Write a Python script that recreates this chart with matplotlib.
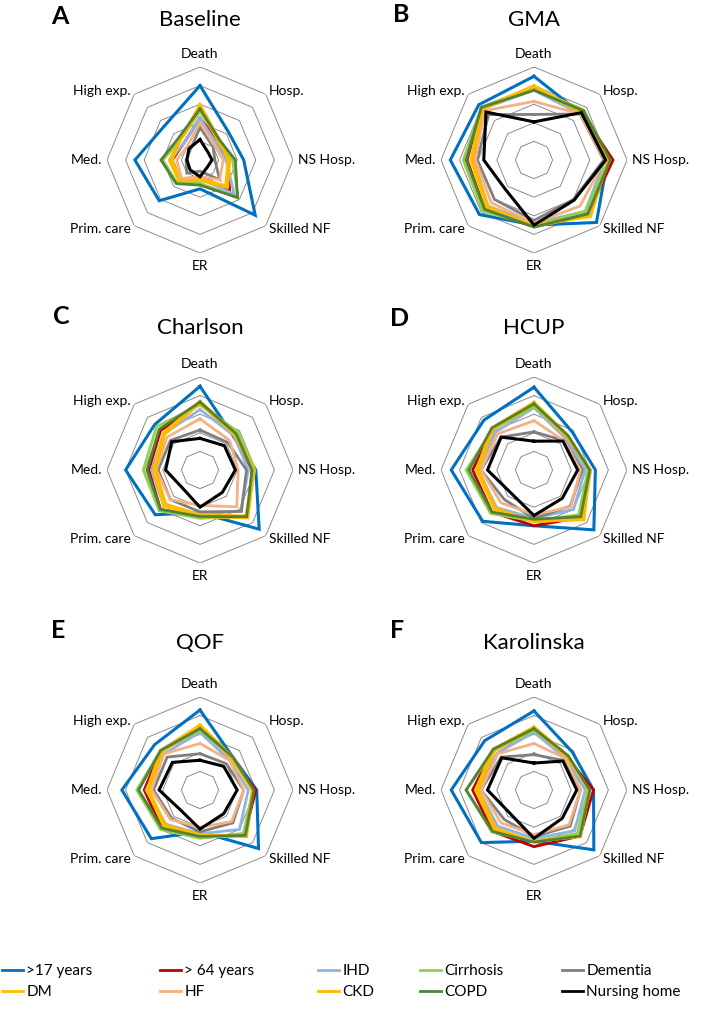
import numpy as np
import matplotlib
matplotlib.use("Agg")
import matplotlib.pyplot as plt

plt.rcParams['font.family'] = ['Lato', 'DejaVu Sans']

# axes of every radar, clockwise from the top
axis_names = ["Death", "Hosp.", "NS Hosp.", "Skilled NF", "ER", "Prim. care", "Med.", "High exp."]

groups = [">17 years", "> 64 years", "IHD", "Cirrhosis", "Dementia",
          "DM", "HF", "CKD", "COPD", "Nursing home"]
colors = ["#0070C0", "#C00000", "#8EB4E3", "#92D050", "#7F7F7F",
          "#FFC000", "#F4B183", "#FFB800", "#548235", "#000000"]

panel_titles = ["Baseline", "GMA", "Charlson", "HCUP", "QOF", "Karolinska"]
panel_letters = ["A", "B", "C", "D", "E", "F"]

# values on the radar scale (outer ring = 1), one row per group
baseline = [
    [0.80, 0.43, 0.47, 0.84, 0.31, 0.62, 0.70, 0.53],
    [0.45, 0.28, 0.30, 0.45, 0.18, 0.30, 0.30, 0.25],
    [0.45, 0.25, 0.28, 0.52, 0.20, 0.30, 0.32, 0.25],
    [0.52, 0.30, 0.35, 0.58, 0.25, 0.35, 0.40, 0.30],
    [0.35, 0.20, 0.16, 0.30, 0.12, 0.20, 0.15, 0.15],
    [0.60, 0.30, 0.30, 0.39, 0.20, 0.30, 0.30, 0.30],
    [0.40, 0.22, 0.25, 0.30, 0.18, 0.28, 0.25, 0.20],
    [0.55, 0.28, 0.32, 0.42, 0.22, 0.32, 0.33, 0.30],
    [0.55, 0.30, 0.38, 0.57, 0.27, 0.36, 0.42, 0.33],
    [0.22, 0.12, 0.13, 0.11, 0.18, 0.15, 0.14, 0.17],
]
gma = [
    [0.90, 0.71, 0.79, 0.95, 0.70, 0.83, 0.90, 0.84],
    [0.78, 0.72, 0.85, 0.82, 0.72, 0.75, 0.72, 0.80],
    [0.75, 0.70, 0.76, 0.78, 0.68, 0.70, 0.65, 0.78],
    [0.77, 0.76, 0.80, 0.78, 0.70, 0.78, 0.76, 0.80],
    [0.49, 0.70, 0.75, 0.60, 0.65, 0.60, 0.61, 0.69],
    [0.80, 0.73, 0.80, 0.86, 0.70, 0.72, 0.68, 0.79],
    [0.63, 0.70, 0.76, 0.70, 0.68, 0.65, 0.63, 0.75],
    [0.77, 0.72, 0.81, 0.84, 0.72, 0.70, 0.66, 0.78],
    [0.75, 0.75, 0.82, 0.82, 0.72, 0.75, 0.73, 0.80],
    [0.41, 0.72, 0.77, 0.61, 0.70, 0.44, 0.54, 0.73],
]
charlson = [
    [0.90, 0.51, 0.60, 0.90, 0.46, 0.68, 0.80, 0.69],
    [0.72, 0.53, 0.56, 0.72, 0.50, 0.60, 0.55, 0.60],
    [0.65, 0.52, 0.52, 0.62, 0.48, 0.55, 0.52, 0.55],
    [0.70, 0.58, 0.59, 0.70, 0.52, 0.62, 0.61, 0.66],
    [0.43, 0.42, 0.50, 0.63, 0.45, 0.45, 0.45, 0.45],
    [0.74, 0.55, 0.58, 0.73, 0.50, 0.55, 0.50, 0.56],
    [0.55, 0.45, 0.41, 0.56, 0.38, 0.45, 0.47, 0.50],
    [0.72, 0.53, 0.57, 0.70, 0.48, 0.52, 0.48, 0.54],
    [0.73, 0.55, 0.56, 0.71, 0.50, 0.60, 0.57, 0.62],
    [0.34, 0.37, 0.38, 0.34, 0.40, 0.27, 0.37, 0.43],
]
hcup = [
    [0.89, 0.58, 0.66, 0.91, 0.60, 0.78, 0.89, 0.76],
    [0.72, 0.50, 0.60, 0.72, 0.60, 0.64, 0.66, 0.63],
    [0.67, 0.48, 0.55, 0.60, 0.52, 0.57, 0.60, 0.58],
    [0.68, 0.52, 0.58, 0.68, 0.55, 0.66, 0.73, 0.62],
    [0.41, 0.45, 0.52, 0.55, 0.52, 0.45, 0.57, 0.50],
    [0.73, 0.52, 0.60, 0.76, 0.55, 0.60, 0.62, 0.64],
    [0.53, 0.45, 0.50, 0.56, 0.48, 0.50, 0.57, 0.55],
    [0.71, 0.50, 0.61, 0.74, 0.56, 0.58, 0.60, 0.62],
    [0.71, 0.52, 0.60, 0.71, 0.53, 0.64, 0.70, 0.64],
    [0.31, 0.44, 0.47, 0.43, 0.49, 0.35, 0.50, 0.50],
]
qof = [
    [0.86, 0.50, 0.61, 0.89, 0.45, 0.74, 0.84, 0.69],
    [0.68, 0.48, 0.60, 0.68, 0.51, 0.58, 0.60, 0.60],
    [0.62, 0.45, 0.52, 0.60, 0.47, 0.52, 0.58, 0.55],
    [0.64, 0.50, 0.57, 0.66, 0.52, 0.60, 0.68, 0.60],
    [0.39, 0.40, 0.47, 0.50, 0.45, 0.43, 0.50, 0.50],
    [0.70, 0.50, 0.57, 0.71, 0.50, 0.55, 0.57, 0.60],
    [0.50, 0.45, 0.47, 0.48, 0.40, 0.45, 0.52, 0.55],
    [0.68, 0.48, 0.56, 0.70, 0.48, 0.53, 0.55, 0.58],
    [0.66, 0.50, 0.58, 0.69, 0.50, 0.58, 0.66, 0.60],
    [0.32, 0.36, 0.40, 0.36, 0.42, 0.30, 0.44, 0.42],
]
karolinska = [
    [0.85, 0.58, 0.64, 0.91, 0.55, 0.80, 0.89, 0.75],
    [0.66, 0.50, 0.64, 0.70, 0.61, 0.63, 0.66, 0.62],
    [0.62, 0.48, 0.55, 0.62, 0.52, 0.55, 0.60, 0.56],
    [0.64, 0.52, 0.58, 0.66, 0.55, 0.64, 0.73, 0.60],
    [0.38, 0.45, 0.50, 0.55, 0.50, 0.45, 0.57, 0.50],
    [0.68, 0.52, 0.59, 0.71, 0.55, 0.60, 0.63, 0.62],
    [0.50, 0.48, 0.50, 0.53, 0.48, 0.50, 0.57, 0.55],
    [0.66, 0.50, 0.60, 0.70, 0.56, 0.58, 0.60, 0.60],
    [0.66, 0.52, 0.60, 0.70, 0.56, 0.63, 0.73, 0.62],
    [0.29, 0.44, 0.46, 0.43, 0.52, 0.36, 0.50, 0.49],
]
panels = [baseline, gma, charlson, hcup, qof, karolinska]

ring_levels = [0.2, 0.4, 0.6, 0.8, 1.0]

W, H = 709, 1011
fig = plt.figure(figsize=(W / 100, H / 100), dpi=100)

# panel centres in pixels (x, y from top) and radius of the outer ring
centres = [(200, 160), (534, 160), (200, 470), (534, 470), (200, 790), (534, 790)]
R = 93
title_y = [20, 20, 328, 328, 643, 643]
letter_pos = [(60, 16), (401, 15), (61, 316), (400, 318), (58, 630), (397, 630)]

n = len(axis_names)
angles = np.linspace(0, 2 * np.pi, n, endpoint=False)
closed = np.append(angles, angles[0])

for k, vals in enumerate(panels):
    cx, cy = centres[k]
    ax = fig.add_axes([(cx - R) / W, (H - cy - R) / H, 2 * R / W, 2 * R / H], polar=True)
    ax.set_theta_zero_location("N")
    ax.set_theta_direction(-1)
    ax.set_ylim(0, 1)
    ax.grid(False)
    ax.spines["polar"].set_visible(False)
    ax.set_xticks([])
    ax.set_yticks([])
    ax.patch.set_alpha(0)

    for lv in ring_levels:
        ax.plot(closed, [lv] * (n + 1), color="#8c8c8c", lw=0.7, zorder=1)

    for g, row in enumerate(vals):
        lw = 2.2 if g in (0, 9) else 2.0
        ax.plot(closed, row + row[:1], color=colors[g], lw=lw, zorder=2 + g,
                solid_joinstyle="miter", label=groups[g])

    # category labels just outside the outer ring
    for a, name in zip(angles, axis_names):
        deg = np.degrees(a)
        if deg == 0:
            ax.text(a, 1.07, name, ha="center", va="bottom", fontsize=10)
        elif deg == 180:
            ax.text(a, 1.08, name, ha="center", va="top", fontsize=10)
        elif deg < 180:
            ax.text(a, 1.05, name, ha="left", va="center", fontsize=10)
        else:
            ax.text(a, 1.05, name, ha="right", va="center", fontsize=10)

    fig.text(cx / W, 1 - title_y[k] / H, panel_titles[k], ha="center", va="center", fontsize=16)
    lx, ly = letter_pos[k]
    fig.text(lx / W, 1 - ly / H, panel_letters[k], ha="center", va="center",
             fontsize=18, fontweight="bold")

# legend: five columns of two entries, each column placed where the original has it
handles, labels = ax.get_legend_handles_labels()
col_x = [2, 160, 318, 420, 562]
for c, x in enumerate(col_x):
    pair = [c, c + 5]
    leg = fig.legend([handles[i] for i in pair], [labels[i] for i in pair],
                     loc="upper left", bbox_to_anchor=(x / W, 1 - 964 / H),
                     frameon=False, fontsize=11, handlelength=1.4, handletextpad=0.2,
                     labelspacing=0.45, borderaxespad=0, borderpad=0)
    for ln in leg.get_lines():
        ln.set_linewidth(2.0)

fig.savefig("out.png", dpi=100)
